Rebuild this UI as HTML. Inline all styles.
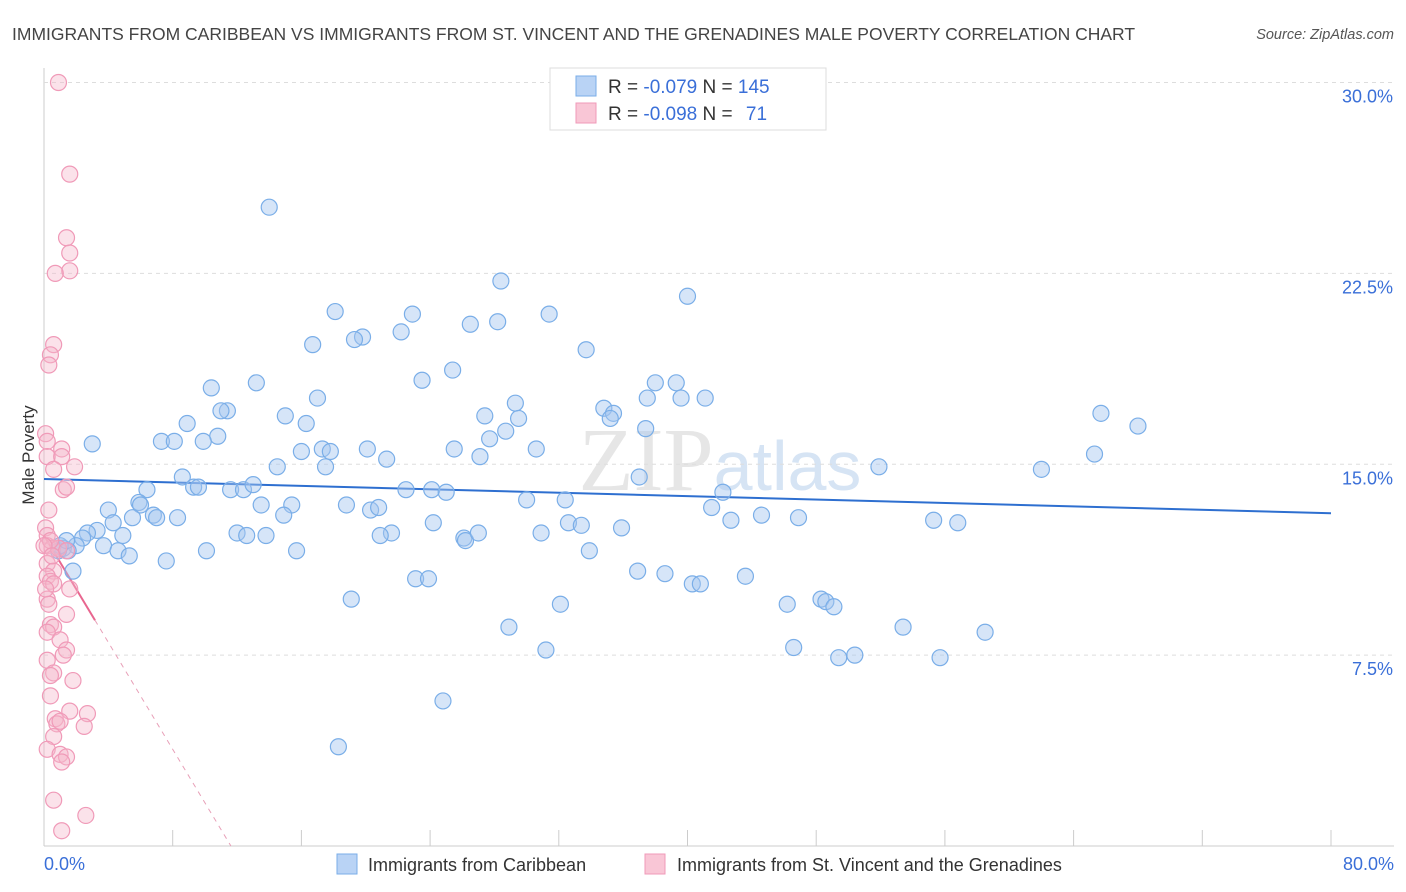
<!DOCTYPE html>
<html><head><meta charset="utf-8">
<style>
body{margin:0;background:#fff;font-family:"Liberation Sans",sans-serif;}
svg{display:block}
</style></head>
<body>
<svg width="1406" height="892" id="chart">
<text x="12" y="40" font-size="17.5" fill="#444">IMMIGRANTS FROM CARIBBEAN VS IMMIGRANTS FROM ST. VINCENT AND THE GRENADINES MALE POVERTY CORRELATION CHART</text>
<text x="1394" y="39" font-size="14.5" fill="#555" font-style="italic" text-anchor="end">Source: ZipAtlas.com</text>
<text x="720" y="490" font-size="90" fill="#e6e6e6" text-anchor="middle" font-family="Liberation Serif,serif">ZIP<tspan fill="#d6e4f4" font-family="Liberation Sans,sans-serif" font-size="70">atlas</tspan></text>
<text transform="translate(34,455) rotate(-90)" font-size="17" fill="#333" text-anchor="middle">Male Poverty</text>
<g id="grid"></g><g id="ticks"></g><g id="trends"></g><g id="pts"></g>
<g>
<rect x="550" y="68" width="276" height="62" fill="#fff" stroke="#ddd"/>
<rect x="576" y="76" width="20" height="20" fill="#b9d3f5" stroke="#7aaee8"/>
<rect x="576" y="103" width="20" height="20" fill="#f9c6d6" stroke="#f09ab8"/>
<text x="608" y="93" font-size="19" fill="#333">R = <tspan fill="#3a6fd8">-0.079</tspan>   N = <tspan fill="#3a6fd8">145</tspan></text>
<text x="608" y="120" font-size="19" fill="#333">R = <tspan fill="#3a6fd8">-0.098</tspan>   N =  <tspan fill="#3a6fd8" dx="8">71</tspan></text>
</g>
<g>
<rect x="337" y="854" width="20" height="20" fill="#b9d3f5" stroke="#7aaee8"/>
<text x="368" y="871" font-size="18" fill="#333">Immigrants from Caribbean</text>
<rect x="645" y="854" width="20" height="20" fill="#f9c6d6" stroke="#f09ab8"/>
<text x="677" y="871" font-size="18" fill="#333">Immigrants from St. Vincent and the Grenadines</text>
</g>
</svg>
<script>
const blueX=[14.0,28.4,40.0,18.1,22.9,31.4,26.5,28.2,19.8,19.3,22.2,16.7,33.7,25.4,23.5,13.2,10.4,38.0,39.3,29.3,17.0,37.5,39.6,41.1,34.8,35.4,11.4,11.0,15.0,27.4,29.5,8.9,16.3,35.2,37.4,65.7,68.0,28.7,27.7,7.3,8.1,10.8,9.9,3.0,16.0,17.3,17.8,20.1,25.5,30.6,27.1,21.3,17.5,14.5,51.9,62.0,65.3,8.6,9.3,9.6,37.0,6.4,11.6,12.4,13.0,22.5,24.1,25.0,5.9,6.0,4.0,6.8,7.0,8.3,5.5,13.5,15.4,14.9,18.8,20.3,20.8,30.0,32.4,41.5,42.2,4.3,3.3,4.9,2.7,12.0,13.8,12.6,21.6,20.9,24.2,32.6,33.4,35.9,42.7,44.6,46.9,55.3,56.8,26.1,26.2,27.0,30.9,2.4,2.0,1.2,0.9,3.7,4.6,5.3,7.6,10.1,15.7,33.9,1.8,23.1,23.9,36.9,38.6,40.3,40.8,43.6,19.1,32.1,46.2,48.3,48.6,49.1,28.9,53.4,58.5,46.6,31.2,49.4,50.4,55.7,24.8,18.3,1.5,1.0,1.4];
const blueY=[25.1,22.2,21.6,21.0,20.9,20.9,20.5,20.6,20.0,19.9,20.2,19.7,19.5,18.7,18.3,18.2,18.0,18.2,18.2,17.4,17.6,17.6,17.6,17.6,17.2,17.0,17.1,17.1,16.9,16.9,16.8,16.6,16.6,16.8,16.4,17.0,16.5,16.3,16.0,15.9,15.9,16.1,15.9,15.8,15.5,15.6,15.5,15.6,15.6,15.6,15.3,15.2,14.9,14.9,14.9,14.8,15.4,14.5,14.1,14.1,14.5,14.0,14.0,14.0,14.2,14.0,14.0,13.9,13.5,13.4,13.2,13.0,12.9,12.9,12.9,13.4,13.4,13.0,13.4,13.2,13.3,13.6,13.6,13.3,13.9,12.7,12.4,12.2,12.3,12.3,12.2,12.2,12.3,12.2,12.7,12.7,12.6,12.5,12.8,13.0,12.9,12.8,12.7,12.1,12.0,12.3,12.3,12.1,11.8,11.7,11.6,11.8,11.6,11.4,11.2,11.6,11.6,11.6,10.8,10.5,10.5,10.8,10.7,10.3,10.3,10.6,9.7,9.5,9.5,9.7,9.6,9.4,8.6,8.6,8.4,7.8,7.7,7.4,7.5,7.4,5.7,3.9,11.6,11.8,12.0];
const pinkX=[0.9,1.6,1.4,1.6,1.6,0.7,0.6,0.4,0.3,0.1,0.2,1.1,0.2,1.1,0.6,1.9,1.2,1.4,0.3,0.1,0.2,0.2,0.5,0.9,1.4,0.2,0.6,0.2,0.4,0.6,0.2,0.3,1.4,0.4,0.6,0.2,1.0,1.4,1.2,0.2,0.6,0.4,1.8,0.4,2.7,1.6,0.7,0.8,2.5,1.0,0.6,0.2,1.0,1.4,1.1,0.6,1.1,2.6,0.4,0.0,0.5,0.1,1.6];
const pinkY=[30.0,26.4,23.9,23.3,22.6,22.5,19.7,19.3,18.9,16.2,15.9,15.6,15.3,15.3,14.8,14.9,14.0,14.1,13.2,12.5,12.2,11.8,11.7,11.7,11.6,11.1,10.8,10.6,10.4,10.3,9.7,9.5,9.1,8.7,8.6,8.4,8.1,7.7,7.5,7.3,6.8,6.7,6.5,5.9,5.2,5.3,5.0,4.8,4.7,4.9,4.3,3.8,3.6,3.5,3.3,1.8,0.6,1.2,12.0,11.8,11.4,10.1,10.1];
const yTicks=[7.5,15.0,22.5,30.0];
const xTickVals=[0,8,16,24,32,40,48,56,64,72,80];
const blueTrend=[14.42,-0.0168]; // intercept, slope
const pinkTrend=[12.2,-1.05];
const pinkSolidEnd=3.17;

const X=v=>44+v*16.0875, Y=v=>846-v*25.45;
const NS='http://www.w3.org/2000/svg';
function mk(tag,parent,attrs){const e=document.createElementNS(NS,tag);for(const k in attrs)e.setAttribute(k,attrs[k]);document.getElementById(parent).appendChild(e);return e;}

let ax=mk('line','grid',{x1:44,y1:68,x2:44,y2:846,stroke:'#ccc'});


let bx=mk('line','grid',{x1:44,y1:846,x2:1394,y2:846,stroke:'#ccc'});


yTicks.forEach(t=>{
  const g=mk('line','grid',{x1:44,y1:Y(t),x2:1394,y2:Y(t),stroke:'#ddd','stroke-dasharray':'4,4'});
  
  
  const l=mk('text','ticks',{x:1393,y:Y(t)+20,'font-size':18,fill:'#3a6fd8','text-anchor':'end'});
  l.textContent=t.toFixed(1)+'%';
  
  
});
xTickVals.forEach(t=>{
  const m=mk('line','ticks',{x1:X(t),y1:830,x2:X(t),y2:846,stroke:'#ccc'});
  
  
});
[[0,'start',44],[80,'end',1394]].forEach(([v,a,x])=>{
  const l=mk('text','ticks',{x:x,y:870,'font-size':18,fill:'#3a6fd8','text-anchor':a});
  l.textContent=v.toFixed(1)+'%';
  
  
});
blueX.forEach((v,i)=>{
  const c=mk('circle','pts',{cx:X(v),cy:Y(blueY[i]),r:8,fill:'rgba(165,198,240,0.45)',stroke:'#7aaee8','stroke-width':1.2});
  
  
});
pinkX.forEach((v,i)=>{
  const c=mk('circle','pts',{cx:X(v),cy:Y(pinkY[i]),r:8,fill:'rgba(246,182,202,0.4)',stroke:'#f09ab8','stroke-width':1.2});
  
  
});
let bt=mk('line','trends',{x1:X(0),y1:Y(blueTrend[0]),x2:X(80),y2:Y(blueTrend[0]+80*blueTrend[1]),stroke:'#2e6fd0','stroke-width':2});


const pz=-pinkTrend[0]/pinkTrend[1];
let pt=mk('line','trends',{x1:X(0),y1:Y(pinkTrend[0]),x2:X(pinkSolidEnd),y2:Y(pinkTrend[0]+pinkSolidEnd*pinkTrend[1]),stroke:'#e8668f','stroke-width':2});


let pd=mk('line','trends',{x1:X(pinkSolidEnd),y1:Y(pinkTrend[0]+pinkSolidEnd*pinkTrend[1]),x2:X(pz),y2:Y(0),stroke:'#e8a0b8','stroke-width':1,'stroke-dasharray':'5,5'});


</script>
</body></html>
